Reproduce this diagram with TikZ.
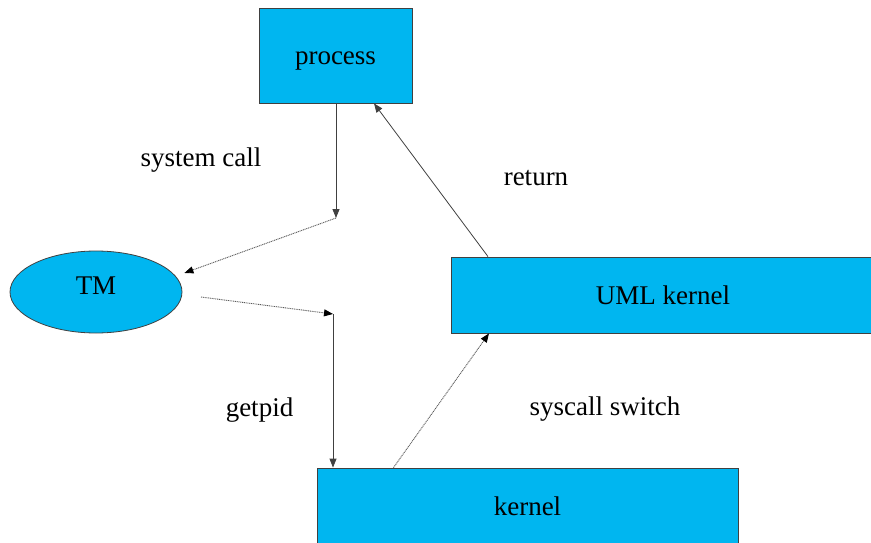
\documentclass[tikz,border=0pt]{standalone}
\usepackage{fontspec}
\setmainfont{Liberation Serif}
\usetikzlibrary{arrows.meta,shapes.geometric}
\definecolor{boxfill}{RGB}{0,182,240}
\definecolor{lineclr}{RGB}{64,64,64}
\begin{document}
\begin{tikzpicture}[x=1pt,y=-1pt,
  every node/.style={font=\fontsize{27}{30}\selectfont, inner sep=0pt},
  boxnode/.style={draw=lineclr, line width=0.8pt, fill=boxfill, rectangle},
  ellnode/.style={draw=lineclr, line width=0.8pt, fill=boxfill, ellipse},
  solidarrow/.style={draw=lineclr, line width=0.8pt, -{Triangle[length=9pt,width=7pt]}},
  dotarrow/.style={draw=black!65, line width=0.9pt, dash pattern=on 1pt off 0.8pt, -{Triangle[length=9pt,width=7pt,black]}},
  lbl/.style={anchor=base}]
\useasboundingbox (0,0) rectangle (871,543);
\node[boxnode, minimum width=153pt, minimum height=95pt, text height=19pt, text depth=0pt] (process) at (335.5,55.5) {process};
\node[ellnode, minimum width=172pt, minimum height=82pt, text height=4pt, text depth=0pt] (TM) at (96,292) {TM};
\node[boxnode, minimum width=424pt, minimum height=76pt] (uml) at (663,295) {UML kernel};
\node[boxnode, minimum width=421pt, minimum height=76pt] (kernel) at (527.5,506) {kernel};
\coordinate (c1) at (336,218);
\coordinate (c2) at (201,297);
\coordinate (c3) at (333,314);
\draw[solidarrow] (process.south -| c1) -- (c1);
\draw[dotarrow] (c1) -- ([shift={(2,-19)}]TM.east);
\draw[dotarrow] (c2) -- (c3);
\draw[solidarrow] (c3) -- (kernel.north -| c3);
\draw[dotarrow] ([xshift=-134pt]kernel.north) -- ([xshift=-174pt]uml.south);
\draw[solidarrow] ([xshift=-175pt]uml.north) -- ([xshift=38.5pt]process.south);
\node[lbl] (lsys) at (201,166) {system call};
\node[lbl] (lret) at (536,185) {return};
\node[lbl] (lget) at (259.5,416) {getpid};
\node[lbl] (lsw) at (605,415) {syscall switch};
\end{tikzpicture}
\end{document}
